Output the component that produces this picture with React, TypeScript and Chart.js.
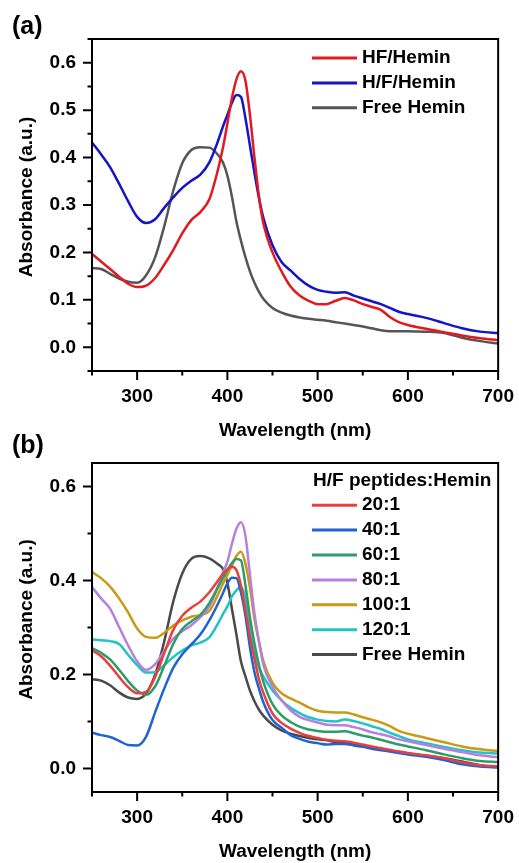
import React, { useEffect, useRef } from 'react';
import { Chart, registerables } from 'chart.js';

Chart.register(...registerables);

const FONT = "'Liberation Sans', Arial, Helvetica, sans-serif";

// ---------- data ----------
const wavelengths = [250, 260, 270, 280, 290, 300, 310, 320, 330, 340, 350, 360, 370, 380, 390, 395, 400, 405, 410, 415, 420, 425, 430, 435, 440, 450, 460, 470, 480, 490, 500, 510, 520, 530, 540, 550, 560, 570, 580, 590, 600, 620, 640, 660, 680, 700];

// panel (a)
const aHF = [0.197, 0.181, 0.165, 0.149, 0.134, 0.127, 0.130, 0.146, 0.174, 0.205, 0.240, 0.268, 0.285, 0.312, 0.378, 0.420, 0.472, 0.525, 0.565, 0.582, 0.562, 0.490, 0.400, 0.318, 0.260, 0.200, 0.160, 0.128, 0.109, 0.098, 0.091, 0.091, 0.098, 0.104, 0.099, 0.091, 0.085, 0.079, 0.064, 0.053, 0.047, 0.039, 0.032, 0.025, 0.019, 0.015];
const aHslashF = [0.432, 0.407, 0.380, 0.345, 0.308, 0.275, 0.262, 0.270, 0.294, 0.316, 0.336, 0.351, 0.364, 0.390, 0.437, 0.465, 0.490, 0.515, 0.532, 0.528, 0.483, 0.425, 0.368, 0.314, 0.272, 0.215, 0.180, 0.162, 0.144, 0.130, 0.121, 0.117, 0.115, 0.116, 0.109, 0.103, 0.097, 0.091, 0.083, 0.075, 0.070, 0.062, 0.051, 0.040, 0.033, 0.030];
const aFree = [0.167, 0.165, 0.155, 0.145, 0.138, 0.136, 0.152, 0.190, 0.255, 0.330, 0.388, 0.416, 0.422, 0.421, 0.405, 0.390, 0.362, 0.318, 0.265, 0.225, 0.190, 0.160, 0.136, 0.117, 0.102, 0.083, 0.073, 0.067, 0.063, 0.060, 0.058, 0.056, 0.053, 0.050, 0.047, 0.044, 0.040, 0.036, 0.034, 0.034, 0.034, 0.033, 0.030, 0.020, 0.013, 0.008];

// panel (b)
const b20 = [0.251, 0.239, 0.219, 0.195, 0.173, 0.160, 0.163, 0.195, 0.245, 0.295, 0.325, 0.342, 0.355, 0.375, 0.401, 0.414, 0.424, 0.429, 0.422, 0.390, 0.338, 0.280, 0.234, 0.190, 0.160, 0.117, 0.097, 0.085, 0.076, 0.069, 0.065, 0.061, 0.059, 0.058, 0.055, 0.051, 0.047, 0.043, 0.040, 0.036, 0.033, 0.028, 0.022, 0.013, 0.007, 0.005];
const b40 = [0.076, 0.071, 0.067, 0.059, 0.050, 0.049, 0.068, 0.120, 0.170, 0.214, 0.243, 0.264, 0.285, 0.315, 0.352, 0.373, 0.394, 0.406, 0.405, 0.375, 0.325, 0.258, 0.205, 0.170, 0.140, 0.103, 0.087, 0.071, 0.063, 0.057, 0.054, 0.051, 0.052, 0.052, 0.049, 0.046, 0.042, 0.039, 0.036, 0.033, 0.030, 0.025, 0.018, 0.009, 0.004, 0.002];
const b60 = [0.256, 0.246, 0.232, 0.210, 0.186, 0.166, 0.157, 0.175, 0.218, 0.265, 0.297, 0.313, 0.327, 0.352, 0.387, 0.405, 0.422, 0.437, 0.446, 0.443, 0.390, 0.322, 0.266, 0.220, 0.184, 0.137, 0.113, 0.099, 0.089, 0.083, 0.080, 0.078, 0.078, 0.079, 0.075, 0.070, 0.066, 0.061, 0.056, 0.051, 0.047, 0.039, 0.030, 0.022, 0.016, 0.014];
const b80 = [0.386, 0.362, 0.340, 0.301, 0.262, 0.228, 0.210, 0.222, 0.250, 0.276, 0.292, 0.305, 0.322, 0.345, 0.390, 0.416, 0.440, 0.478, 0.510, 0.524, 0.495, 0.412, 0.330, 0.270, 0.220, 0.174, 0.145, 0.124, 0.110, 0.103, 0.098, 0.093, 0.092, 0.092, 0.088, 0.083, 0.077, 0.073, 0.068, 0.062, 0.058, 0.050, 0.042, 0.035, 0.028, 0.024];
const b100 = [0.418, 0.405, 0.387, 0.362, 0.332, 0.298, 0.280, 0.278, 0.289, 0.304, 0.315, 0.323, 0.326, 0.335, 0.372, 0.393, 0.412, 0.432, 0.452, 0.461, 0.436, 0.385, 0.318, 0.270, 0.228, 0.182, 0.160, 0.149, 0.140, 0.130, 0.123, 0.120, 0.119, 0.119, 0.115, 0.109, 0.104, 0.098, 0.090, 0.080, 0.074, 0.065, 0.056, 0.047, 0.041, 0.037];
const b120 = [0.275, 0.273, 0.271, 0.265, 0.242, 0.220, 0.204, 0.205, 0.220, 0.237, 0.251, 0.262, 0.268, 0.279, 0.310, 0.328, 0.345, 0.366, 0.379, 0.386, 0.363, 0.305, 0.250, 0.215, 0.195, 0.166, 0.145, 0.129, 0.118, 0.109, 0.104, 0.101, 0.100, 0.104, 0.101, 0.096, 0.090, 0.084, 0.076, 0.069, 0.062, 0.054, 0.046, 0.039, 0.034, 0.032];
const bFree = [0.190, 0.187, 0.177, 0.162, 0.151, 0.148, 0.160, 0.200, 0.270, 0.355, 0.415, 0.446, 0.452, 0.447, 0.434, 0.425, 0.395, 0.340, 0.285, 0.228, 0.196, 0.166, 0.143, 0.125, 0.112, 0.093, 0.081, 0.074, 0.069, 0.065, 0.062, 0.060, 0.056, 0.054, 0.051, 0.048, 0.044, 0.041, 0.038, 0.035, 0.032, 0.027, 0.022, 0.015, 0.007, 0.003];

const aLabels = ['HF/Hemin', 'H/F/Hemin', 'Free Hemin'];
const aSeries = [aHF, aHslashF, aFree];
const aColors = ['#E2191E', '#1414C8', '#555555'];

const bLegendTitle = 'H/F peptides:Hemin';
const bLabels = ['20:1', '40:1', '60:1', '80:1', '100:1', '120:1', 'Free Hemin'];
const bSeries = [b20, b40, b60, b80, b100, b120, bFree];
const bColors = ['#E8403E', '#1F63D0', '#2E9B6B', '#B87FDB', '#C99A12', '#22C3C6', '#4A4A4A'];

const xTicks = [250, 300, 350, 400, 450, 500, 550, 600, 650, 700];
const xTickLabels = [300, 400, 500, 600, 700];
const yTicksA = [-0.05, 0, 0.05, 0.1, 0.15, 0.2, 0.25, 0.3, 0.35, 0.4, 0.45, 0.5, 0.55, 0.6, 0.65];
const yTickLabelsA = [0, 0.1, 0.2, 0.3, 0.4, 0.5, 0.6];
const yTicksB = [0, 0.1, 0.2, 0.3, 0.4, 0.5, 0.6];
const yTickLabelsB = [0, 0.2, 0.4, 0.6];

const xTitle = 'Wavelength (nm)';
const yTitle = 'Absorbance (a.u.)';

// ---------- helpers ----------
const isIn = (arr: number[], v: number) => arr.some((a) => Math.abs(a - v) < 1e-9);

type PanelSpec = {
  tag: string;
  tagY: number;
  series: number[][];
  labels: string[];
  colors: string[];
  legendTitle?: string;
  legendTop: number;
  yTicks: number[];
  yTickLabels: number[];
  padTop: number;
  xHeight: number;
  height: number;
};

function makeConfig(p: PanelSpec): any {
  const datasets = p.series.map((s, i) => ({
    label: p.labels[i],
    data: wavelengths.map((w, j) => ({ x: w, y: s[j] })),
    borderColor: p.colors[i],
    backgroundColor: p.colors[i],
    borderWidth: 2.5,
    pointRadius: 0,
    fill: false,
    cubicInterpolationMode: 'monotone',
  }));

  const decor = {
    id: 'decor',
    afterDraw(chart: any) {
      const { ctx, chartArea: ca, scales } = chart;
      const xs = scales.x;
      const ys = scales.y;
      ctx.save();
      ctx.strokeStyle = '#000';
      ctx.lineWidth = 2;
      ctx.lineCap = 'butt';
      ctx.beginPath();
      xs.ticks.forEach((t: any) => {
        const px = xs.getPixelForValue(t.value);
        const len = isIn(xTickLabels, t.value) ? 9 : 4.5;
        ctx.moveTo(px, ca.bottom);
        ctx.lineTo(px, ca.bottom + len);
      });
      ys.ticks.forEach((t: any) => {
        const py = ys.getPixelForValue(t.value);
        const len = isIn(p.yTickLabels, t.value) ? 9 : 4.5;
        ctx.moveTo(ca.left, py);
        ctx.lineTo(ca.left - len, py);
      });
      ctx.stroke();
      ctx.strokeRect(ca.left, ca.top, ca.right - ca.left, ca.bottom - ca.top);

      // panel tag
      ctx.fillStyle = '#000';
      ctx.font = `bold 25px ${FONT}`;
      ctx.textAlign = 'left';
      ctx.textBaseline = 'alphabetic';
      ctx.fillText(p.tag, 12, p.tagY);

      // y title
      ctx.save();
      ctx.translate(27, (ca.top + ca.bottom) / 2 - 8);
      ctx.rotate(-Math.PI / 2);
      ctx.font = `bold 19px ${FONT}`;
      ctx.textAlign = 'center';
      ctx.textBaseline = 'middle';
      ctx.fillText(yTitle, 0, 0);
      ctx.restore();

      // legend
      ctx.font = `bold 19px ${FONT}`;
      ctx.textBaseline = 'middle';
      ctx.textAlign = 'left';
      let rowY = p.legendTop;
      const step = 24.9;
      if (p.legendTitle) {
        ctx.fillStyle = '#000';
        ctx.fillText(p.legendTitle, 313, rowY);
        rowY += step;
      }
      chart.data.datasets.forEach((ds: any) => {
        ctx.strokeStyle = ds.borderColor;
        ctx.lineWidth = 3;
        ctx.beginPath();
        ctx.moveTo(312, rowY);
        ctx.lineTo(357, rowY);
        ctx.stroke();
        ctx.fillStyle = '#000';
        ctx.fillText(ds.label, 362, rowY);
        rowY += step;
      });
      ctx.restore();
    },
  };

  const tickFont = { family: FONT, size: 19, weight: 'bold' as const };

  return {
    type: 'line',
    data: { datasets },
    options: {
      animation: false,
      responsive: false,
      events: [],
      layout: { padding: { top: p.padTop, right: 17, bottom: 0, left: 0 } },
      plugins: { legend: { display: false }, tooltip: { enabled: false }, title: { display: false } },
      scales: {
        x: {
          type: 'linear',
          min: 250,
          max: 700,
          afterBuildTicks: (s: any) => {
            s.ticks = xTicks.map((v) => ({ value: v }));
          },
          afterFit: (s: any) => {
            s.height = p.xHeight;
          },
          grid: { display: true, drawOnChartArea: false, drawTicks: true, tickLength: 9, color: 'rgba(0,0,0,0)' },
          border: { display: false },
          ticks: {
            autoSkip: false,
            maxRotation: 0,
            padding: 5,
            color: '#000',
            font: tickFont,
            callback: (v: number) => (isIn(xTickLabels, v) ? String(v) : ''),
          },
          title: {
            display: true,
            text: xTitle,
            color: '#000',
            font: tickFont,
            padding: { top: 0, bottom: 0 },
          },
        },
        y: {
          type: 'linear',
          min: -0.05,
          max: 0.65,
          afterBuildTicks: (s: any) => {
            s.ticks = p.yTicks.map((v) => ({ value: v }));
          },
          afterFit: (s: any) => {
            s.width = 92;
          },
          grid: { display: true, drawOnChartArea: false, drawTicks: true, tickLength: 9, color: 'rgba(0,0,0,0)' },
          border: { display: false },
          ticks: {
            autoSkip: false,
            padding: 7,
            color: '#000',
            font: tickFont,
            callback: (v: number) => (isIn(p.yTickLabels, v) ? v.toFixed(1) : ''),
          },
          title: { display: false },
        },
      },
    },
    plugins: [decor],
  };
}

const panelA: PanelSpec = {
  tag: '(a)',
  tagY: 34,
  series: aSeries,
  labels: aLabels,
  colors: aColors,
  legendTop: 58,
  yTicks: yTicksA,
  yTickLabels: yTickLabelsA,
  padTop: 39,
  xHeight: 71,
  height: 442,
};

const panelB: PanelSpec = {
  tag: '(b)',
  tagY: 23,
  series: bSeries,
  labels: bLabels,
  colors: bColors,
  legendTitle: bLegendTitle,
  legendTop: 50.3,
  yTicks: yTicksB,
  yTickLabels: yTickLabelsB,
  padTop: 33,
  xHeight: 71,
  height: 433,
};

function Panel({ spec, top }: { spec: PanelSpec; top: number }) {
  const ref = useRef<HTMLCanvasElement>(null);
  useEffect(() => {
    if (!ref.current) return;
    const chart = new Chart(ref.current, makeConfig(spec));
    return () => chart.destroy();
  }, [spec]);
  return (
    <canvas
      ref={ref}
      width={519}
      height={spec.height}
      style={{ position: 'absolute', left: 0, top, width: 519, height: spec.height, display: 'block' }}
    />
  );
}

export default function App() {
  return (
    <div style={{ position: 'absolute', left: 0, top: 0, width: 519, height: 863, background: '#fff', overflow: 'hidden' }}>
      <Panel spec={panelA} top={0} />
      <Panel spec={panelB} top={430} />
    </div>
  );
}
